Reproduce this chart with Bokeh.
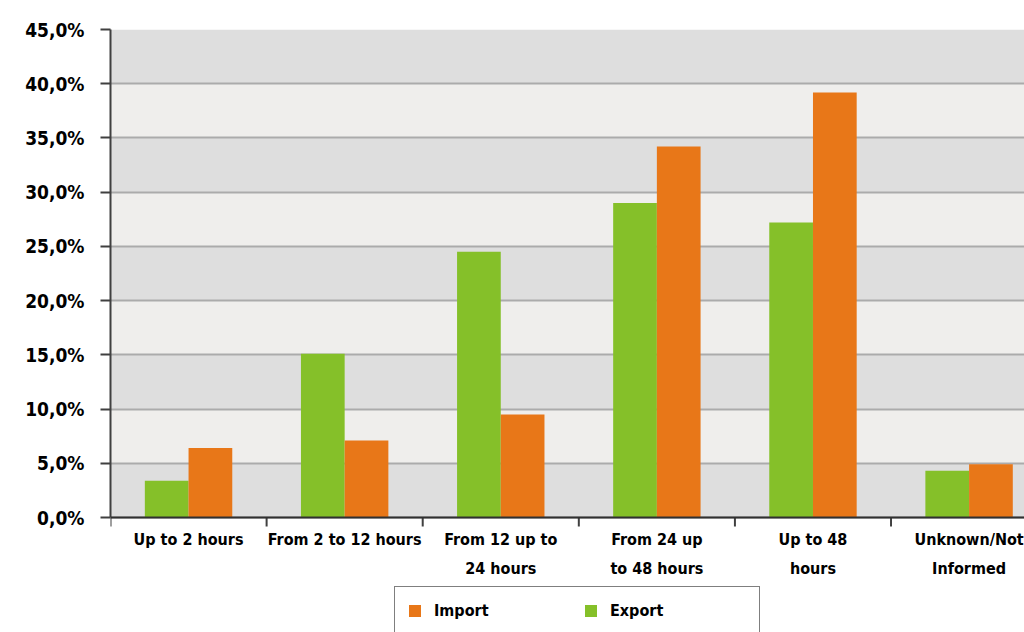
from math import pi

from bokeh.plotting import figure
from bokeh.models import FixedTicker, Legend, LegendItem, ColumnDataSource, Range1d, Span
from bokeh.core.properties import value
from bokeh.embed import file_html
from bokeh.resources import INLINE

# Transit time categories (category centre sits at its index)
categories = [
    "Up to 2 hours",
    "From 2 to 12 hours",
    "From 12 up to\n24 hours",
    "From 24 up\nto 48 hours",
    "Up to 48\nhours",
    "Unknown/Not\nInformed",
]
export_pct = [3.4, 15.1, 24.5, 29.0, 27.2, 4.3]
import_pct = [6.4, 7.1, 9.5, 34.2, 39.2, 4.9]
y_ticks = [0, 5, 10, 15, 20, 25, 30, 35, 40, 45]
y_labels = ["0,0%", "5,0%", "10,0%", "15,0%", "20,0%", "25,0%", "30,0%", "35,0%", "40,0%", "45,0%"]

FONT = "DejaVu Sans Condensed"
GREEN = "#85C029"
ORANGE = "#E87718"
BAND_DARK = "#DEDEDE"
BAND_LIGHT = "#EFEEEC"
BAR_W = 0.28

# frame geometry: the plotting area runs to the canvas bottom so that the
# category labels and the legend can be drawn beneath the value axis
FRAME_W, FRAME_H = 914, 603
PX_PER_UNIT = 488 / 45.0
Y_START = -(632 - 29 - 488) / PX_PER_UNIT
X_START, X_END = -0.5, -0.5 + 5.855

idx = list(range(len(categories)))
src = ColumnDataSource(dict(
    x_exp=[i - BAR_W / 2 for i in idx],
    x_imp=[i + BAR_W / 2 for i in idx],
    export=export_pct,
    imp=import_pct,
))

p = figure(
    frame_width=FRAME_W, frame_height=FRAME_H,
    output_backend="svg", toolbar_location=None,
    x_range=Range1d(X_START, X_END), y_range=Range1d(Y_START, 45),
    x_axis_location=None,
    min_border_left=110, min_border_top=29, min_border_right=0, min_border_bottom=0,
    background_fill_color="white", border_fill_color="white",
    outline_line_color=None,
)

# alternating background bands between value ticks
band_src = ColumnDataSource(dict(
    bottom=y_ticks[:-1],
    top=y_ticks[1:],
    color=[BAND_DARK if i % 2 == 0 else BAND_LIGHT for i in range(len(y_ticks) - 1)],
))
p.quad(left=X_START, right=X_END, bottom="bottom", top="top", fill_color="color",
       line_color=None, source=band_src, level="image")

r_exp = p.vbar(x="x_exp", top="export", width=BAR_W, source=src,
               fill_color=GREEN, line_color=None)
r_imp = p.vbar(x="x_imp", top="imp", width=BAR_W, source=src,
               fill_color=ORANGE, line_color=None)

# horizontal grid lines
p.xgrid.visible = False
p.ygrid.ticker = FixedTicker(ticks=y_ticks)
p.ygrid.grid_line_color = "#ABABAB"
p.ygrid.grid_line_width = 2
p.ygrid.level = "underlay"

# y axis
ya = p.yaxis[0]
ya.bounds = (0, 45)
ya.ticker = FixedTicker(ticks=y_ticks)
ya.major_label_overrides = {t: l for t, l in zip(y_ticks, y_labels)}
ya.major_label_text_font = FONT
ya.major_label_text_font_style = "bold"
ya.major_label_text_font_size = "19px"
ya.major_label_text_color = "black"
ya.major_label_standoff = 16
ya.major_tick_in = 0
ya.major_tick_out = 10
ya.major_tick_line_color = "#404040"
ya.major_tick_line_width = 2
ya.minor_tick_line_color = None
ya.axis_line_color = "#404040"
ya.axis_line_width = 2

# category axis: baseline, boundary tick marks and labels
p.add_layout(Span(location=0, dimension="width", line_color="#303030", line_width=2))
boundaries = [i - 0.5 for i in range(len(categories) + 1)]
p.ray(x=boundaries, y=[0] * len(boundaries), length=9, length_units="screen",
      angle=-pi / 2, line_color="#404040", line_width=2)
p.text(x=idx, y=[0] * len(idx), text=categories, y_offset=12,
       text_align="center", text_baseline="top",
       text_font=value(FONT), text_font_style="bold", text_font_size="16px",
       text_color="black", text_line_height=1.55)

legend = Legend(
    items=[LegendItem(label="Import", renderers=[r_imp]),
           LegendItem(label="Export", renderers=[r_exp])],
    orientation="horizontal", location=(284, -2),
    label_text_font=FONT, label_text_font_style="bold",
    label_text_font_size="16px", label_text_color="black",
    glyph_width=15, glyph_height=15, label_height=22, label_standoff=12,
    label_width=137, spacing=12, padding=12, margin=0,
    border_line_color="black", border_line_width=1,
    background_fill_color="white", background_fill_alpha=1.0,
)
p.add_layout(legend, "center")

open("out.html", "w").write(file_html(p, INLINE))
